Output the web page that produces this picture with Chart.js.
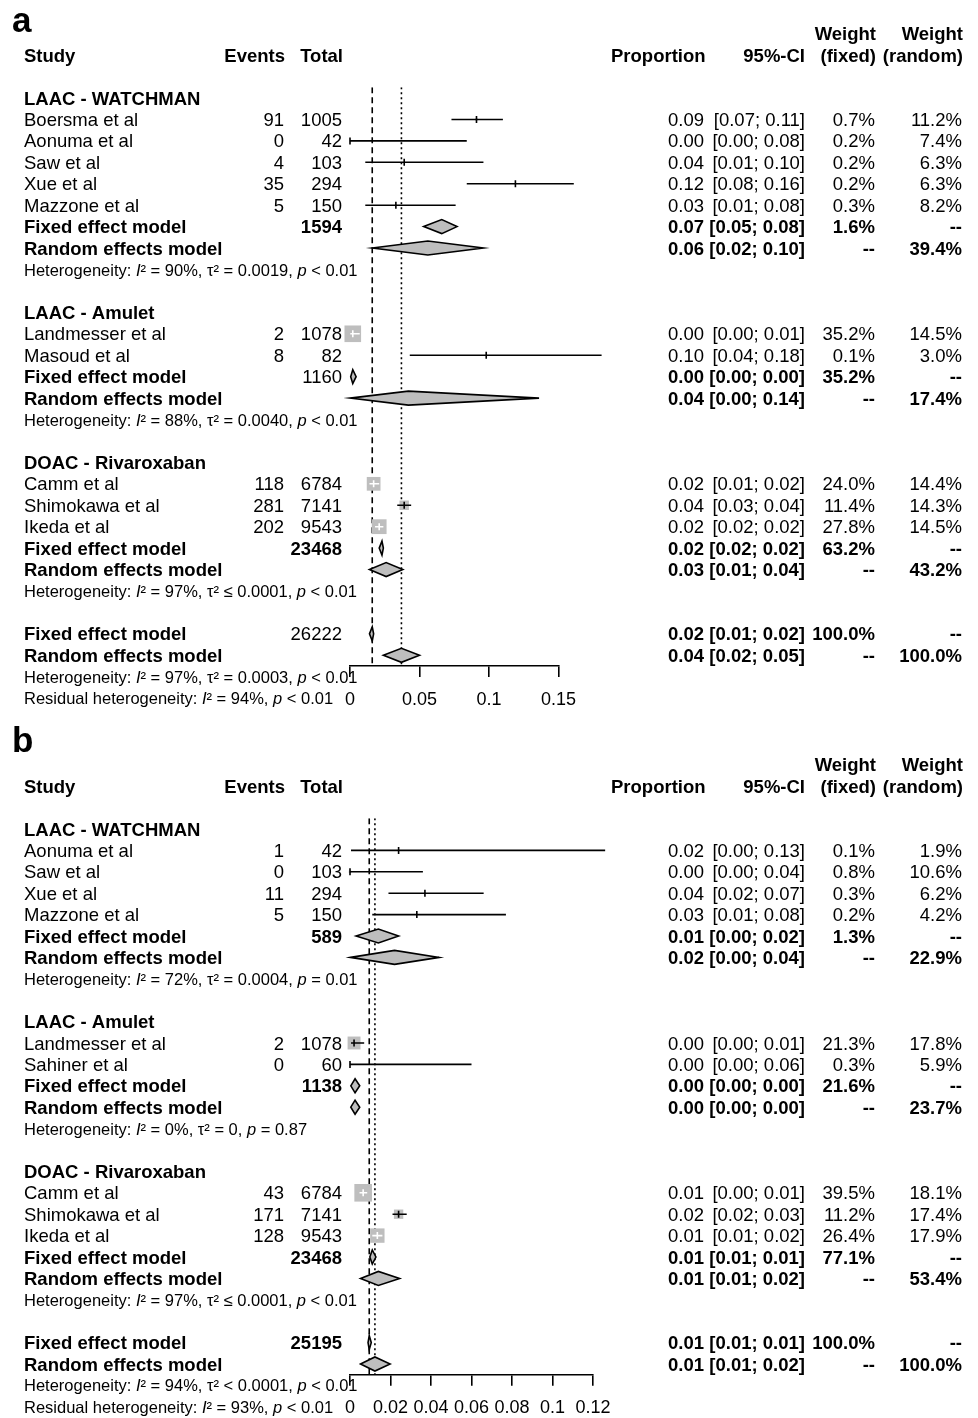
<!DOCTYPE html>
<html lang="en">
<head>
<meta charset="utf-8">
<title>Forest plots: proportion of events</title>
<script src="https://cdn.jsdelivr.net/npm/chart.js"></script>
<style>
  body { margin: 0; background: #fff; }
  .panel { position: relative; width: 978px; }
  #panelA { height: 712px; }
  #panelB { height: 706px; }
</style>
</head>
<body>
<div class="panel" id="panelA"><canvas id="chartA"></canvas></div>
<div class="panel" id="panelB"><canvas id="chartB"></canvas></div>
<script>
// ---------- panel a ----------
const groupsA = ['LAAC - WATCHMAN', 'LAAC - Amulet', 'DOAC - Rivaroxaban'];
const studiesA = ['Boersma et al', 'Aonuma et al', 'Saw et al', 'Xue et al', 'Mazzone et al',
  'Landmesser et al', 'Masoud et al', 'Camm et al', 'Shimokawa et al', 'Ikeda et al'];
const groupOfA = [0, 0, 0, 0, 0, 1, 1, 2, 2, 2];
const eventsA = [91, 0, 4, 35, 5, 2, 8, 118, 281, 202];
const totalsA = [1005, 42, 103, 294, 150, 1078, 82, 6784, 7141, 9543];
const propA = [0.091, 0, 0.039, 0.119, 0.033, 0.002, 0.098, 0.017, 0.039, 0.021];
const lowerA = [0.073, 0, 0.011, 0.084, 0.011, 0.0002, 0.043, 0.014, 0.034, 0.018];
const upperA = [0.110, 0.084, 0.096, 0.161, 0.076, 0.007, 0.181, 0.021, 0.044, 0.024];
const wFixedA = [0.7, 0.2, 0.2, 0.2, 0.3, 35.2, 0.1, 24.0, 11.4, 27.8];
const wRandomA = [11.2, 7.4, 6.3, 6.3, 8.2, 14.5, 3.0, 14.4, 14.3, 14.5];
// pooled estimates per subgroup, last entry is all studies together
const poolTotalsA = [1594, 1160, 23468, 26222];
const poolTotalBoldA = [true, false, true, false];
const fixedPropA = [0.066, 0.002, 0.023, 0.016];
const fixedLowerA = [0.053, 0.0005, 0.021, 0.014];
const fixedUpperA = [0.077, 0.0044, 0.024, 0.017];
const randomPropA = [0.056, 0.042, 0.026, 0.037];
const randomLowerA = [0.016, 0, 0.014, 0.024];
const randomUpperA = [0.096, 0.136, 0.038, 0.050];
const fixedWeightA = [1.6, 35.2, 63.2, 100];
const randomWeightA = [39.4, 17.4, 43.2, 100];
const hetI2A = ['90%', '88%', '97%', '97%'];
const hetTau2A = ['= 0.0019', '= 0.0040', '\u2264 0.0001', '= 0.0003'];
const hetPA = ['< 0.01', '< 0.01', '< 0.01', '< 0.01'];
const residualA = ['94%', '< 0.01'];
const ticksA = [0, 0.05, 0.1, 0.15];

// ---------- panel b ----------
const groupsB = ['LAAC - WATCHMAN', 'LAAC - Amulet', 'DOAC - Rivaroxaban'];
const studiesB = ['Aonuma et al', 'Saw et al', 'Xue et al', 'Mazzone et al',
  'Landmesser et al', 'Sahiner et al', 'Camm et al', 'Shimokawa et al', 'Ikeda et al'];
const groupOfB = [0, 0, 0, 0, 1, 1, 2, 2, 2];
const eventsB = [1, 0, 11, 5, 2, 0, 43, 171, 128];
const totalsB = [42, 103, 294, 150, 1078, 60, 6784, 7141, 9543];
const propB = [0.024, 0, 0.037, 0.033, 0.002, 0, 0.0065, 0.024, 0.0135];
const lowerB = [0.0005, 0, 0.019, 0.011, 0.0005, 0, 0.0047, 0.021, 0.011];
const upperB = [0.126, 0.036, 0.066, 0.077, 0.007, 0.060, 0.0085, 0.028, 0.016];
const wFixedB = [0.1, 0.8, 0.3, 0.2, 21.3, 0.3, 39.5, 11.2, 26.4];
const wRandomB = [1.9, 10.6, 6.2, 4.2, 17.8, 5.9, 18.1, 17.4, 17.9];
const poolTotalsB = [589, 1138, 23468, 25195];
const poolTotalBoldB = [true, true, true, true];
const fixedPropB = [0.014, 0.0025, 0.011, 0.0095];
const fixedLowerB = [0.003, 0.0004, 0.0098, 0.0089];
const fixedUpperB = [0.024, 0.0048, 0.0128, 0.0105];
const randomPropB = [0.022, 0.0025, 0.014, 0.0123];
const randomLowerB = [0.0003, 0.0004, 0.0052, 0.0052];
const randomUpperB = [0.044, 0.0048, 0.0245, 0.0198];
const fixedWeightB = [1.3, 21.6, 77.1, 100];
const randomWeightB = [22.9, 23.7, 53.4, 100];
const hetI2B = ['72%', '0%', '97%', '94%'];
const hetTau2B = ['= 0.0004', '= 0', '\u2264 0.0001', '< 0.0001'];
const hetPB = ['= 0.01', '= 0.87', '< 0.01', '< 0.01'];
const residualB = ['93%', '< 0.01'];
const ticksB = [0, 0.02, 0.04, 0.06, 0.08, 0.1, 0.12];

const FONT = "'Liberation Sans', Arial, sans-serif";
Chart.defaults.font.family = FONT;

// text columns
const COL = { study: 24, events: 284, total: 342, est: 668, ci: 805, wf: 876, wr: 962, prop: 611 };
const MAIN = 18.5, SMALL = 16.5;
const TEXT_DY = 1.5;

function squareSide(w) { return 2.8 * Math.sqrt(w); }
function f2(v) { return v.toFixed(2); }
function pct(v) { return v.toFixed(1) + '%'; }

function put(ctx, s, x, y, align, style, size) {
  ctx.font = (style || '') + ' ' + size + 'px ' + FONT;
  ctx.textAlign = align;
  ctx.fillText(s, x, y);
}

// text with italic pieces marked by *...*
function putRich(ctx, s, x, y, size) {
  let cx = x, italic = false;
  ctx.textAlign = 'left';
  s.split('*').forEach(part => {
    ctx.font = (italic ? 'italic ' : '') + size + 'px ' + FONT;
    ctx.fillText(part, cx, y);
    cx += ctx.measureText(part).width;
    italic = !italic;
  });
}

function buildRows(p) {
  const rows = [];
  let r = 0;
  p.groups.forEach((g, gi) => {
    rows.push({ kind: 'group', row: r++, gi });
    p.groupOf.forEach((gg, i) => { if (gg === gi) rows.push({ kind: 'study', row: r++, i }); });
    rows.push({ kind: 'fixed', row: r++, gi });
    rows.push({ kind: 'random', row: r++, gi });
    rows.push({ kind: 'het', row: r++, gi });
    r++;
  });
  const k = p.groups.length;
  rows.push({ kind: 'fixed', row: r++, gi: k, overall: true });
  rows.push({ kind: 'random', row: r++, gi: k, overall: true });
  rows.push({ kind: 'het', row: r++, gi: k });
  rows.push({ kind: 'resid', row: r++ });
  return rows;
}

function makePanel(canvasId, p) {
  const rows = buildRows(p);
  const lastSummary = rows[rows.length - 3].row;
  const yMin = -0.5, yMax = lastSummary + 0.5;
  const k = p.groups.length;
  const refFixed = p.fixedProp[k], refRandom = p.randomProp[k];
  const studyRows = rows.filter(r => r.kind === 'study');

  const forest = {
    id: 'forest' + canvasId,
    afterDatasetsDraw(chart) {
      const { ctx } = chart;
      const x = chart.scales.x, y = chart.scales.y;
      ctx.save();
      ctx.lineWidth = 1.6;
      rows.forEach(r => {
        const py = y.getPixelForValue(r.row);
        if (r.kind === 'study') {
          const i = r.i;
          const x0 = x.getPixelForValue(p.lower[i]);
          const x1 = x.getPixelForValue(p.upper[i]);
          const xe = x.getPixelForValue(p.prop[i]);
          const half = squareSide(p.wFixed[i]) / 2;
          const inside = x0 >= xe - half && x1 <= xe + half;
          ctx.strokeStyle = inside ? '#ffffff' : '#000000';
          ctx.beginPath();
          ctx.moveTo(x0, py); ctx.lineTo(x1, py);
          ctx.moveTo(xe, py - 3.5); ctx.lineTo(xe, py + 3.5);
          ctx.stroke();
        } else if (r.kind === 'fixed' || r.kind === 'random') {
          const g = r.gi;
          const est = r.kind === 'fixed' ? p.fixedProp[g] : p.randomProp[g];
          const lo = r.kind === 'fixed' ? p.fixedLower[g] : p.randomLower[g];
          const hi = r.kind === 'fixed' ? p.fixedUpper[g] : p.randomUpper[g];
          const xl = x.getPixelForValue(lo), xr = x.getPixelForValue(hi), xe = x.getPixelForValue(est);
          ctx.beginPath();
          ctx.moveTo(xl, py); ctx.lineTo(xe, py - 7); ctx.lineTo(xr, py); ctx.lineTo(xe, py + 7);
          ctx.closePath();
          ctx.fillStyle = '#bebebe';
          ctx.fill();
          ctx.strokeStyle = '#000000';
          ctx.lineWidth = 1.6;
          ctx.stroke();
        }
      });
      ctx.restore();
    },
    afterDraw(chart) {
      const { ctx } = chart;
      const y = chart.scales.y;
      const Y = v => y.getPixelForValue(v) + TEXT_DY;
      ctx.save();
      ctx.fillStyle = '#000';
      ctx.textBaseline = 'alphabetic';
      put(ctx, p.letter, 12, p.letterBase, 'left', 'bold', 35);
      ctx.textBaseline = 'middle';
      // column headers
      put(ctx, 'Weight', COL.wf, Y(-3), 'right', 'bold', MAIN);
      put(ctx, 'Weight', COL.wr + 1, Y(-3), 'right', 'bold', MAIN);
      put(ctx, 'Study', COL.study, Y(-2), 'left', 'bold', MAIN);
      put(ctx, 'Events', COL.events + 1, Y(-2), 'right', 'bold', MAIN);
      put(ctx, 'Total', COL.total + 1, Y(-2), 'right', 'bold', MAIN);
      put(ctx, 'Proportion', COL.prop, Y(-2), 'left', 'bold', MAIN);
      put(ctx, '95%-CI', COL.ci, Y(-2), 'right', 'bold', MAIN);
      put(ctx, '(fixed)', COL.wf, Y(-2), 'right', 'bold', MAIN);
      put(ctx, '(random)', COL.wr + 1, Y(-2), 'right', 'bold', MAIN);

      rows.forEach(r => {
        const py = Y(r.row);
        if (r.kind === 'group') {
          put(ctx, p.groups[r.gi], COL.study, py, 'left', 'bold', MAIN);
        } else if (r.kind === 'study') {
          const i = r.i;
          put(ctx, p.studies[i], COL.study, py, 'left', '', MAIN);
          put(ctx, String(p.events[i]), COL.events, py, 'right', '', MAIN);
          put(ctx, String(p.totals[i]), COL.total, py, 'right', '', MAIN);
          put(ctx, f2(p.prop[i]), COL.est, py, 'left', '', MAIN);
          put(ctx, '[' + f2(p.lower[i]) + '; ' + f2(p.upper[i]) + ']', COL.ci, py, 'right', '', MAIN);
          put(ctx, pct(p.wFixed[i]), COL.wf - 1, py, 'right', '', MAIN);
          put(ctx, pct(p.wRandom[i]), COL.wr, py, 'right', '', MAIN);
        } else if (r.kind === 'fixed' || r.kind === 'random') {
          const g = r.gi, fixed = r.kind === 'fixed';
          put(ctx, fixed ? 'Fixed effect model' : 'Random effects model', COL.study, py, 'left', 'bold', MAIN);
          if (fixed) {
            put(ctx, String(p.poolTotals[g]), COL.total, py, 'right', p.poolTotalBold[g] ? 'bold' : '', MAIN);
          }
          const est = fixed ? p.fixedProp[g] : p.randomProp[g];
          const lo = fixed ? p.fixedLower[g] : p.randomLower[g];
          const hi = fixed ? p.fixedUpper[g] : p.randomUpper[g];
          put(ctx, f2(est), COL.est, py, 'left', 'bold', MAIN);
          put(ctx, '[' + f2(lo) + '; ' + f2(hi) + ']', COL.ci, py, 'right', 'bold', MAIN);
          put(ctx, fixed ? pct(p.fixedWeight[g]) : '--', COL.wf - 1, py, 'right', 'bold', MAIN);
          put(ctx, fixed ? '--' : pct(p.randomWeight[g]), COL.wr, py, 'right', 'bold', MAIN);
        } else if (r.kind === 'het') {
          const g = r.gi;
          putRich(ctx, 'Heterogeneity: *I*\u00b2 = ' + p.hetI2[g] + ', \u03c4\u00b2 ' + p.hetTau2[g] + ', *p* ' + p.hetP[g],
            COL.study, py, SMALL);
        } else if (r.kind === 'resid') {
          putRich(ctx, 'Residual heterogeneity: *I*\u00b2 = ' + p.residual[0] + ', *p* ' + p.residual[1],
            COL.study, py, SMALL);
        }
      });
      ctx.restore();
    }
  };

  const canvas = document.getElementById(canvasId);
  const H = canvas.parentNode.clientHeight;
  return new Chart(canvas, {
    type: 'scatter',
    data: {
      datasets: [
        { // fixed effect reference line
          type: 'line',
          data: [{ x: refFixed, y: yMin }, { x: refFixed, y: yMax }],
          borderColor: '#000', borderWidth: 1.6, borderDash: [6, 4],
          pointRadius: 0, order: 3
        },
        { // random effects reference line
          type: 'line',
          data: [{ x: refRandom, y: yMin }, { x: refRandom, y: yMax }],
          borderColor: '#000', borderWidth: 1.6, borderDash: [2, 3],
          pointRadius: 0, order: 3
        },
        { // study squares sized by fixed-effect weight
          data: studyRows.map(r => ({ x: p.prop[r.i], y: r.row })),
          pointStyle: 'rect',
          pointRadius: ctx => squareSide(p.wFixed[studyRows[ctx.dataIndex].i]) / Math.SQRT2,
          backgroundColor: '#bebebe',
          borderWidth: 0,
          clip: false,
          order: 2
        }
      ]
    },
    options: {
      responsive: true,
      maintainAspectRatio: false,
      animation: false,
      events: [],
      layout: {
        padding: { left: 350, right: 978 - 350 - p.pxPerUnit * p.ticks[p.ticks.length - 1], top: p.top, bottom: 0 }
      },
      scales: {
        x: {
          type: 'linear',
          min: 0,
          max: p.ticks[p.ticks.length - 1],
          afterBuildTicks: s => { s.ticks = p.ticks.map(v => ({ value: v })); },
          afterFit: s => { s.height = H - p.bottom; },
          grid: { drawOnChartArea: false, drawTicks: true, tickLength: 11, color: '#000', lineWidth: 1.6 },
          border: { display: true, color: '#000', width: 1.6 },
          ticks: {
            color: '#000',
            font: { size: 18 },
            padding: 12,
            maxRotation: 0,
            autoSkip: false,
            callback: v => String(+v.toFixed(3))
          }
        },
        y: { type: 'linear', display: false, reverse: true, min: yMin, max: yMax }
      },
      plugins: { legend: { display: false }, tooltip: { enabled: false } }
    },
    plugins: [forest]
  });
}

makePanel('chartA', {
  letter: 'a', letterBase: 32, top: 87.3, bottom: 666, pxPerUnit: 1390,
  groups: groupsA, studies: studiesA, groupOf: groupOfA, events: eventsA, totals: totalsA,
  prop: propA, lower: lowerA, upper: upperA, wFixed: wFixedA, wRandom: wRandomA,
  poolTotals: poolTotalsA, poolTotalBold: poolTotalBoldA,
  fixedProp: fixedPropA, fixedLower: fixedLowerA, fixedUpper: fixedUpperA,
  randomProp: randomPropA, randomLower: randomLowerA, randomUpper: randomUpperA,
  fixedWeight: fixedWeightA, randomWeight: randomWeightA,
  hetI2: hetI2A, hetTau2: hetTau2A, hetP: hetPA, residual: residualA, ticks: ticksA
});

makePanel('chartB', {
  letter: 'b', letterBase: 40, top: 106.3, bottom: 662.7, pxPerUnit: 2025,
  groups: groupsB, studies: studiesB, groupOf: groupOfB, events: eventsB, totals: totalsB,
  prop: propB, lower: lowerB, upper: upperB, wFixed: wFixedB, wRandom: wRandomB,
  poolTotals: poolTotalsB, poolTotalBold: poolTotalBoldB,
  fixedProp: fixedPropB, fixedLower: fixedLowerB, fixedUpper: fixedUpperB,
  randomProp: randomPropB, randomLower: randomLowerB, randomUpper: randomUpperB,
  fixedWeight: fixedWeightB, randomWeight: randomWeightB,
  hetI2: hetI2B, hetTau2: hetTau2B, hetP: hetPB, residual: residualB, ticks: ticksB
});
</script>
</body>
</html>
